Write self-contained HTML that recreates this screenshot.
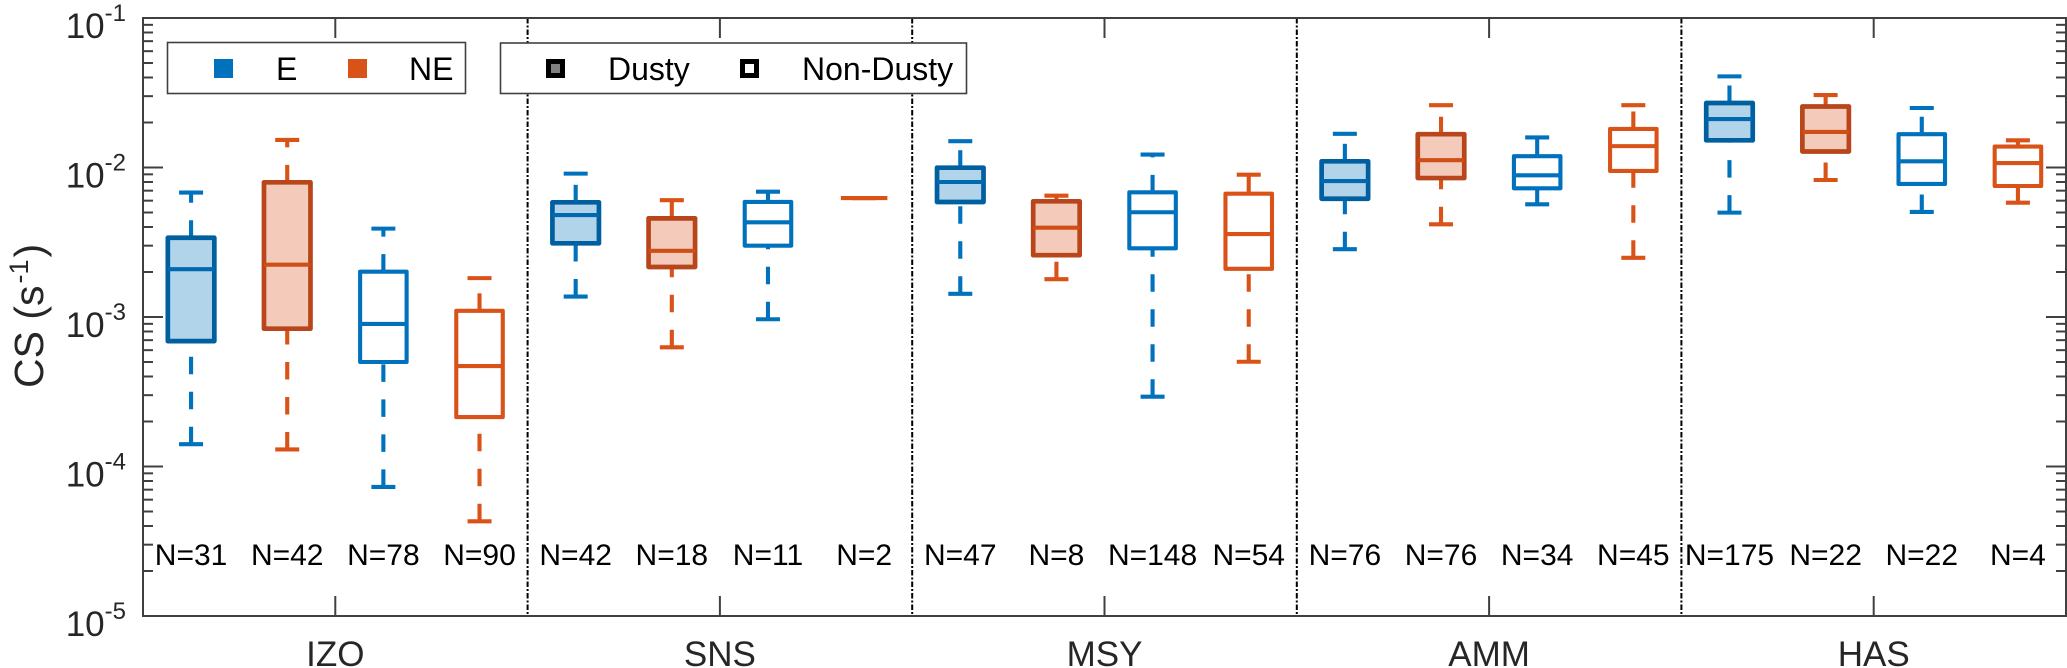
<!DOCTYPE html>
<html lang="en">
<head>
<meta charset="utf-8">
<title>CS box plot by station</title>
<style>
html,body{margin:0;padding:0;background:#fff;width:2067px;height:668px;overflow:hidden}
svg{display:block}
text{font-family:"Liberation Sans",Arial,sans-serif}
</style>
</head>
<body>
<svg id="chart" xmlns="http://www.w3.org/2000/svg" width="2067" height="668" viewBox="0 0 2067 668">
  <rect x="0" y="0" width="2067" height="668" fill="#ffffff"/>
  <g id="grid"></g>
  <g id="boxes"></g>
  <g id="nlabels"></g>
  <g id="axes"></g>

  <text transform="translate(43,388) rotate(-90)" font-size="41" fill="#262626">CS (s<tspan dy="-15" dx="2" font-size="27">-1</tspan><tspan dy="15" dx="2">)</tspan></text>

  <g>
    <rect x="167.5" y="42.5" width="298" height="51" fill="#ffffff" stroke="#404040" stroke-width="1.6"/>
    <rect x="214" y="59" width="19" height="19" fill="#0072BD"/>
    <text x="276" y="80" font-size="32" fill="#000">E</text>
    <rect x="348" y="59" width="19" height="19" fill="#D95319"/>
    <text x="409" y="80" font-size="32" fill="#000">NE</text>
  </g>
  <g>
    <rect x="500.5" y="43" width="466" height="50.5" fill="#ffffff" stroke="#404040" stroke-width="1.6"/>
    <rect x="548.5" y="61.5" width="14" height="14" fill="#808080" stroke="#000" stroke-width="5"/>
    <text x="608" y="80" font-size="32" fill="#000">Dusty</text>
    <rect x="742.5" y="61.5" width="14" height="14" fill="#ffffff" stroke="#000" stroke-width="5"/>
    <text x="802" y="80" font-size="32" fill="#000">Non-Dusty</text>
  </g>
</svg>
<script>
const stations = ['IZO', 'SNS', 'MSY', 'AMM', 'HAS'];
const windSectors = ['E', 'NE', 'E', 'NE'];
const dustConditions = ['Dusty', 'Dusty', 'Non-Dusty', 'Non-Dusty'];
const sampleCounts = [31, 42, 78, 90, 42, 18, 11, 2, 47, 8, 148, 54, 76, 76, 34, 45, 175, 22, 22, 4];
const upperWhiskers = [6.8e-3, 1.53e-2, 3.90e-3, 1.82e-3, 9.1e-3, 6.04e-3, 6.89e-3, 6.25e-3, 1.50e-2, 6.48e-3, 1.22e-2, 8.95e-3, 1.68e-2, 2.61e-2, 1.59e-2, 2.61e-2, 4.07e-2, 3.05e-2, 2.50e-2, 1.52e-2];
const upperQuartiles = [3.39e-3, 7.96e-3, 2.01e-3, 1.10e-3, 5.85e-3, 4.57e-3, 5.88e-3, 6.25e-3, 9.97e-3, 5.94e-3, 6.82e-3, 6.68e-3, 1.10e-2, 1.67e-2, 1.19e-2, 1.81e-2, 2.70e-2, 2.56e-2, 1.67e-2, 1.38e-2];
const medians = [2.09e-3, 2.24e-3, 8.98e-4, 4.70e-4, 4.81e-3, 2.77e-3, 4.30e-3, 6.25e-3, 8.0e-3, 3.96e-3, 5.02e-3, 3.59e-3, 8.12e-3, 1.12e-2, 8.87e-3, 1.39e-2, 2.11e-2, 1.73e-2, 1.10e-2, 1.07e-2];
const lowerQuartiles = [6.9e-4, 8.35e-4, 5.0e-4, 2.14e-4, 3.11e-3, 2.16e-3, 3.0e-3, 6.25e-3, 5.88e-3, 2.59e-3, 2.88e-3, 2.10e-3, 6.18e-3, 8.50e-3, 7.26e-3, 9.48e-3, 1.52e-2, 1.28e-2, 7.76e-3, 7.52e-3];
const lowerWhiskers = [1.41e-4, 1.30e-4, 7.3e-5, 4.3e-5, 1.37e-3, 6.27e-4, 9.66e-4, 6.25e-3, 1.43e-3, 1.79e-3, 2.93e-4, 5.02e-4, 2.84e-3, 4.17e-3, 5.67e-3, 2.49e-3, 4.99e-3, 8.25e-3, 5.04e-3, 5.82e-3];
const yExponents = [-1, -2, -3, -4, -5];
const minorMultipliers = [2, 3, 4, 5, 6, 7, 8, 9];

const NS = 'http://www.w3.org/2000/svg';
const plotLeft = 143, plotRight = 2066, plotTop = 18, plotBottom = 616;
const yMinExp = -5, yMaxExp = -1;
const slotCount = sampleCounts.length;
const colors = { E: '#0072BD', NE: '#D95319' };
const darkEdges = { E: '#005f9f', NE: '#b8461a' };
const medianDusty = { E: '#0069b0', NE: '#cf4e16' };
const fills = { E: '#b2d4eb', NE: '#f4cabb' };

function xScale(p) { return plotLeft + (p + 0.5) * (plotRight - plotLeft) / slotCount; }
function yScale(v) { return plotBottom - (Math.log10(v) - yMinExp) / (yMaxExp - yMinExp) * (plotBottom - plotTop); }

function mk(parent, tag, attrs) {
  const el = document.createElementNS(NS, tag);
  for (const k in attrs) el.setAttribute(k, attrs[k]);
  parent.appendChild(el);
  return el;
}

const gGrid = document.getElementById('grid');
const gBoxes = document.getElementById('boxes');
const gN = document.getElementById('nlabels');
const gAxes = document.getElementById('axes');
const groupSize = windSectors.length;

/* station separators */
for (let s = 1; s < stations.length; s++) {
  const sepX = xScale(s * groupSize - 0.5);
  const sep = mk(gGrid, 'line', { x1: sepX, x2: sepX, y1: plotTop, y2: plotBottom, stroke: '#000', 'stroke-width': 2, 'stroke-dasharray': '5.5 2 2 2' });
  
  
}

/* boxes */
const boxW = 46.5, capW = 24, lw = 4.1;
sampleCounts.forEach(function (n, i) {
  const sector = windSectors[i % groupSize];
  const dusty = dustConditions[i % groupSize] === 'Dusty';
  const cx = xScale(i);
  const col = colors[sector];
  const edge = dusty ? darkEdges[sector] : col;
  const yUp = yScale(upperWhiskers[i]), yQ3 = yScale(upperQuartiles[i]), yMed = yScale(medians[i]);
  const yQ1 = yScale(lowerQuartiles[i]), yLow = yScale(lowerWhiskers[i]);

  const g = mk(gBoxes, 'g', {});
  
  

  const dash = { stroke: col, 'stroke-width': lw, 'stroke-dasharray': '17.5 17.5', fill: 'none' };
  const upWhisk = mk(g, 'line', Object.assign({ x1: cx, x2: cx, y1: yQ3, y2: yUp }, dash));
  
  
  const loWhisk = mk(g, 'line', Object.assign({ x1: cx, x2: cx, y1: yLow, y2: yQ1 }, dash));
  
  
  const upCap = mk(g, 'line', { x1: cx - capW / 2, x2: cx + capW / 2, y1: yUp, y2: yUp, stroke: col, 'stroke-width': lw });
  
  
  const loCap = mk(g, 'line', { x1: cx - capW / 2, x2: cx + capW / 2, y1: yLow, y2: yLow, stroke: col, 'stroke-width': lw });
  
  
  const body = mk(g, 'rect', { x: cx - boxW / 2, y: yQ3, width: boxW, height: Math.max(yQ1 - yQ3, 0), fill: dusty ? fills[sector] : 'none', stroke: edge, 'stroke-width': lw + (dusty ? 0.6 : 0), 'stroke-linejoin': 'round' });
  
  
  const med = mk(g, 'line', { x1: cx - boxW / 2, x2: cx + boxW / 2, y1: yMed, y2: yMed, stroke: dusty ? medianDusty[sector] : col, 'stroke-width': lw });
  
  

  const lab = mk(gN, 'text', { x: cx, y: 565, 'font-size': 30, 'text-anchor': 'middle', fill: '#000' });
  
  
  lab.textContent = 'N=' + n;
});

/* axes frame */
const axisColor = '#404040';
const frame = mk(gAxes, 'rect', { x: plotLeft, y: plotTop, width: plotRight - plotLeft, height: plotBottom - plotTop, fill: 'none', stroke: axisColor, 'stroke-width': 2 });



/* y ticks */
yExponents.forEach(function (e) {
  const y = yScale(Math.pow(10, e));
  [[plotLeft, 1], [plotRight, -1]].forEach(function (side) {
    const t = mk(gAxes, 'line', { x1: side[0], x2: side[0] + side[1] * 20, y1: y, y2: y, stroke: axisColor, 'stroke-width': 2 });
    
    
  });
  const label = mk(gAxes, 'text', { x: 126, y: y + 20, 'text-anchor': 'end', fill: '#262626', 'font-size': 35 });
  
  
  const base = mk(label, 'tspan', { 'font-size': 35 });
  base.textContent = '10';
  const sup = mk(label, 'tspan', { 'font-size': 24, dy: -17 });
  sup.textContent = String(e);
  if (e > yMinExp) {
    minorMultipliers.forEach(function (m) {
      const my = yScale(m * Math.pow(10, e - 1));
      [[plotLeft, 1], [plotRight, -1]].forEach(function (side) {
        const mt = mk(gAxes, 'line', { x1: side[0], x2: side[0] + side[1] * 10, y1: my, y2: my, stroke: axisColor, 'stroke-width': 2 });
        
        
      });
    });
  }
});

/* x ticks and station labels */
stations.forEach(function (st, s) {
  const x = xScale(s * groupSize + (groupSize - 1) / 2);
  [[plotBottom, -1], [plotTop, 1]].forEach(function (side) {
    const t = mk(gAxes, 'line', { x1: x, x2: x, y1: side[0], y2: side[0] + side[1] * 20, stroke: axisColor, 'stroke-width': 2 });
    
    
  });
  const lab = mk(gAxes, 'text', { x: x, y: 666, 'text-anchor': 'middle', 'font-size': 35, fill: '#262626' });
  
  
  lab.textContent = st;
});
</script>
</body>
</html>
